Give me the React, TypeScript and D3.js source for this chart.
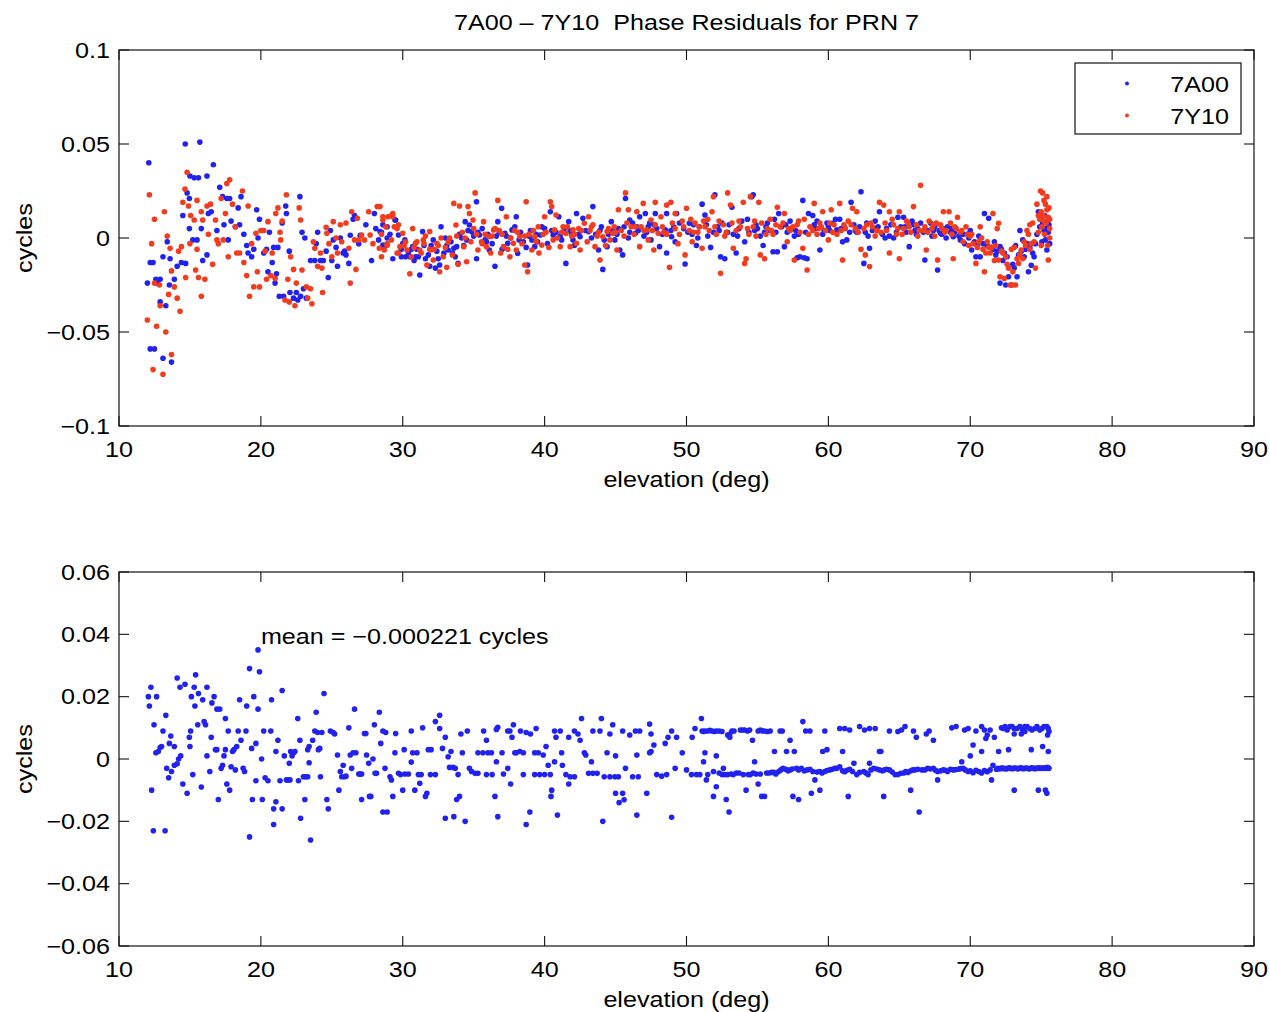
import React from "react";
import * as d3 from "d3";

// ---------- data ----------
const xTicks = [10, 20, 30, 40, 50, 60, 70, 80, 90];
const yTicksTop = [-0.1, -0.05, 0, 0.05, 0.1];
const yTicksBottom = [-0.06, -0.04, -0.02, 0, 0.02, 0.04, 0.06];
const seriesNames = ["7A00", "7Y10"];
const titleText = "7A00 \u2013 7Y10  Phase Residuals for PRN 7";
const meanText = "mean = \u22120.000221 cycles";

// 7A00 residuals [elevation deg, cycles]
const blueTop: [number, number][] = [
[12.1,.040],[12.0,-.024],[12.2,-.013],[12.4,-.013],[12.2,-.059],[12.5,-.059],[12.6,-.022],[12.9,-.022],[12.7,-.024],[12.9,-.034],[13.1,-.064],[13.3,-.036],[13.1,-.010],[13.4,-.002],[13.55,-.025],[13.7,-.066],[13.9,-.022],[13.6,-.011],[14.1,-.015],[14.4,-.013],[14.7,-.0135],[14.5,.012],[14.67,.050],[14.8,.024],[14.96,.021],[15.0,.033],[15.3,.032],[15.6,.032],[15.7,.051],[15.2,-.001],[15.5,-.001],[14.96,.005],[15.8,.005],[15.9,-.012],[16.2,.033],[16.3,.013],[16.5,.014],[16.65,.039],[16.2,-.009],[16.9,.004],[17.1,.027],[17.3,.022],[17.4,.007],[17.6,.021],[17.8,.021],[17.7,-.001],[17.9,.009],[18.2,.006],[18.4,.016],[18.6,.022],[18.5,.007],[18.8,.002],[19.0,-.004],[19.1,-.008],[19.35,-.010],[19.5,-.006],[19.7,.015],[19.8,0],[19.9,.010],[20.2,-.008],[20.4,-.006],[20.5,-.018],[20.6,.003],[20.8,-.013],[20.9,-.005],[21.0,-.024],[21.1,-.019],[21.2,-.005],[21.3,-.031],[21.6,-.031],[21.5,.008],[21.8,.013],[21.75,.017],[22.0,-.007],[22.05,-.029],[22.3,-.032],[22.5,-.029],[22.6,-.033],[22.75,.022],[22.8,-.031],[22.9,.003],[23.0,-.027],[23.1,0],[23.2,-.032],[23.5,-.012],[23.8,-.012],[23.9,-.003],[24.0,.003],[24.2,-.012],[24.4,-.012],[24.6,-.007],[24.75,-.021],[24.9,.004],[25.0,-.012],[25.1,-.001],[25.3,-.005],[25.4,-.015],[25.6,0],[25.8,-.008],[25.9,-.007],[26.0,-.009],[26.2,-.0135],[26.3,.0015],[26.5,.010],[26.6,.012],[26.9,-.003],[27.0,.0015],[27.4,.007],[27.8,-.012],[28.0,.013],[28.1,.005],[28.3,-.001],[28.5,.003],[28.6,.007],[28.9,0],[29.3,-.011],[29.5,.0096],
[28.4,.0034],[28.6,-.0037],[28.9,.006],[29.45,.0096],[29.7,.0016],[29.9,-.010],[30.2,-.010],[30.5,-.010],[30.9,-.010],[31.1,-.010],[30.15,-.001],[30.7,-.0046],[31.2,-.0197],[31.4,.0034],[31.6,-.011],[31.9,-.015],[32.15,-.001],[32.3,-.016],[32.6,-.0144],[32.7,.006],[33.0,0],[33.2,-.0064],[33.6,-.0055],[33.8,-.0046],[33.9,-.0135],[34.15,0],[34.4,.0087],[34.7,.0069],[34.85,.0034],[35.2,.0193],[35.2,-.011],[35.4,.0016],[35.8,-.001],[36.1,-.0064],[36.5,-.015],[36.7,.0087],[36.97,.0158],[37.2,.0025],[37.4,-.0028],[37.7,.0043],[38.0,.0113],[38.1,-.0082],[38.5,-.002],[38.8,-.0144],[39.1,-.001],[39.3,-.0046],[39.7,.0016],[40.0,.005],[40.4,.014],[40.6,.0016],[41.0,.0113],[41.2,-.001],[41.5,-.0135],[41.7,.0087],[42.0,-.001],[42.25,.013],[42.5,.0007],[42.7,.0105],[43.1,.0034],[43.4,.0167],[43.8,-.0064],[44.1,-.0167],[44.4,-.0046],[44.7,.0087],[44.95,-.001],[45.3,-.0064],[45.5,-.009],[45.7,.021],[46.0,.0096],[46.4,.0025],[46.7,.0113],[47.1,.013],[47.3,.006],[47.5,-.001],[47.8,.013],[48.1,-.0046],[48.5,.0043],[48.6,-.008],[48.95,.0007],[49.3,.013],
[28.8,-.004],[29.1,.002],[29.9,-.006],[30.4,-.008],[30.8,-.012],[31.0,-.006],[31.8,-.009],[32.0,-.004],[32.5,-.011],[32.9,-.008],[33.4,-.002],[33.7,-.010],[34.0,.002],[34.3,-.004],[34.6,.004],[35.0,.001],[35.6,.005],[36.0,.002],[36.3,-.003],[36.8,.003],[37.0,-.006],[37.6,0],[37.9,.006],[38.3,.003],[38.7,-.005],[39.0,.004],[39.5,-.002],[39.8,.006],[40.2,-.003],[40.8,.003],[41.4,.005],[41.9,.002],[42.1,-.004],[42.9,.004],[43.6,.002],[44.0,.006],[44.2,-.001],[44.8,.004],[45.1,.002],[45.6,.006],[45.9,0],[46.2,.008],[46.6,.004],[47.0,.001],[47.4,.008],[47.9,.005],
[48.6,.013],[48.9,.004],[49.2,-.002],[49.5,.008],[49.9,-.0138],[50.2,.0078],[50.4,.002],[50.7,-.004],[50.9,.006],[51.1,.018],[51.3,.0122],[51.5,.001],[51.7,-.005],[52.0,.023],[52.2,.006],[52.4,-.01],[52.7,-.011],[52.9,.003],[53.2,.0163],[53.5,-.008],[53.7,.005],[53.9,.009],[54.1,-.002],[54.4,.003],[54.6,.022],[54.7,.023],[54.9,.007],[55.2,.001],[55.4,-.004],[55.7,.008],[55.9,.004],[56.1,-.0073],[56.4,-.0073],[56.5,.013],[56.7,.006],[56.9,-.0046],[57.1,.003],[57.3,.009],[57.6,.001],[57.8,-.0105],[58.0,-.01],[58.2,.020],[58.3,-.0105],[58.5,-.011],[58.6,.013],[58.9,.012],[59.1,.005],[59.4,-.0064],[59.6,.002],[59.9,.008],[60.1,.004],[60.3,.0078],[60.6,.0043],[60.8,.010],[61.0,-.002],[61.3,-.001],[61.6,.019],[61.8,.007],[62.0,.003],[62.3,.0246],[62.5,-.0135],[62.7,.008],[62.9,-.0055],[63.1,.004],[63.3,.009],[63.6,.014],[63.8,.002],[64.0,0],[64.3,.001],[64.6,0],[64.9,.011],[65.1,.006],[65.3,.011],[65.5,.003],[65.7,-.0046],[66.0,.007],[66.2,.002],[66.5,.008],[66.8,-.0117],[67.0,.004],[67.3,.001],[67.5,.006],[67.7,-.017],[67.9,.0025],[68.1,.005],[68.3,0],[68.6,.003],[68.8,.0007],[69.0,.005],[69.3,-.001],[69.6,-.003],[69.9,0],[70.1,-.0064],[70.4,-.01],[70.7,-.01],[70.9,-.003],[71.0,.013],[71.3,.0105],[71.5,-.005],[71.7,-.002],[71.9,-.007],[72.1,-.0046],[72.1,-.024],[72.3,-.012],[72.5,-.025],[72.7,-.0206],[72.9,-.025],[73.0,-.014],[73.1,-.016],[73.3,-.0206],[73.4,-.009],[73.5,.004],[73.7,-.001],[73.9,-.006],[74.1,-.018],[74.3,-.0145],[74.4,-.008],[74.6,-.003],[74.7,.002],[74.8,.014],[74.9,.006],[75.0,.01],[75.05,-.002],[75.1,.008],[75.2,.004],[75.25,.012],[75.3,-.001],[75.35,.005],[75.4,-.0064],[75.45,.009],[75.5,.003],[75.55,.007],[75.6,-.003],
[49.8,.005],[50.5,.007],[51.9,.003],[52.5,.008],[53.3,.002],[54.3,.010],[55.0,.005],[55.5,.003],[56.2,.010],[57.4,.005],[57.9,.002],[59.2,.009],[59.7,.004],[60.5,.010],[61.1,.006],[61.5,.003],[62.2,.006],[62.8,.001],[63.5,.006],[64.1,.005],[64.8,.003],[65.9,.009],[66.3,.005],[67.2,.008],[67.8,.004],[68.4,.006],[68.9,.003],[69.5,.002],[70.0,.004],[70.3,-.002],[70.6,.001],[71.2,-.004],[71.8,-.009],[72.2,-.006],[72.6,-.010],[73.2,-.004],[73.8,-.010],[74.2,-.005],[74.5,-.010],
[30.0,-.003],[30.6,-.006],[31.5,-.004],[32.4,-.007],[33.1,-.004],[33.5,-.008],[34.5,-.001],[35.3,.003],[35.9,-.002],[36.6,.001],[37.3,.001],[38.2,-.001],[38.9,.001],[39.4,.002],[40.5,.004],[41.1,.001],[41.8,.004],[42.4,.002],[43.3,0],[43.9,.004],[44.5,.002],[45.2,.005],[46.0,.003],[46.5,.006],[47.2,.003],[47.7,.007],[48.3,.002],[49.1,.006],[50.1,.003],[50.8,0],[51.4,.007],[52.3,.004],[53.0,.007],[53.6,.001],[54.8,.004],[55.6,.006],[56.3,.003],[57.0,.007],[57.7,.004],[58.4,.003],[59.0,.007],[60.0,.006],[60.9,.005],[61.9,.004],[62.6,.003],[63.4,.005],[64.4,.007],[65.4,.006],[66.1,.004],[66.7,.003],[67.4,.004],[68.0,.002],[68.7,.005],[69.2,.001],[69.8,.002],[70.5,-.004],[71.1,-.003],[71.6,-.006],[72.4,-.008],[73.6,-.007],[74.0,-.003]
];

// 7Y10 residuals [elevation deg, cycles]
const redTop: [number, number][] = [
[12.14,.023],[12.0,-.0436],[12.3,-.003],[12.5,.010],[12.4,-.070],[12.65,-.047],[12.5,-.024],[12.85,-.025],[12.9,-.036],[13.1,-.0725],[13.2,.014],[13.3,-.050],[13.4,.001],[13.5,-.030],[13.6,-.0055],[13.7,-.0175],[13.7,-.062],[13.9,-.026],[14.1,-.032],[14.3,-.039],[14.2,-.007],[14.4,-.0046],[14.5,.019],[14.65,.026],[14.8,.035],[14.7,-.021],[14.9,.017],[15.05,.012],[15.0,-.003],[15.3,.0096],[15.4,-.017],[15.5,.020],[15.5,-.006],[15.6,-.021],[15.8,.014],[15.8,-.031],[15.9,.0096],[16.05,-.022],[16.2,.017],[16.3,.002],[16.45,.018],[16.6,-.014],[16.8,.0096],[16.9,-.001],[17.0,-.003],[17.2,.021],[17.35,-.001],[17.5,.013],[17.6,.029],[17.8,.031],[17.7,-.010],[18.0,.018],[18.2,.006],[18.3,-.008],[18.5,-.008],[18.7,.025],[18.8,-.013],[19.0,-.020],[19.1,.017],[19.2,-.031],[19.35,-.003],[19.5,-.026],[19.65,.0025],[19.75,-.018],[19.9,-.026],[20.0,.004],[20.2,.004],[20.3,-.007],[20.4,-.022],[20.5,.0087],[20.7,-.020],[20.8,-.008],[21.0,-.0215],[21.05,.013],[21.2,.016],[21.35,.003],[21.4,-.001],[21.5,.009],[21.7,-.033],[22.0,-.034],[22.4,-.036],[21.8,.023],[21.9,-.022],[22.1,-.010],[22.3,-.0167],[22.5,-.024],[22.7,.016],[22.8,.0096],[22.9,-.017],[23.2,-.026],[23.3,-.032],[23.5,-.027],[23.6,-.035],[23.7,-.002],[23.8,-.0055],[24.0,-.015],[24.2,-.008],[24.3,-.016],[24.35,-.029],[24.6,.0057],[24.65,.0025],[24.8,-.003],[25.0,-.010],[25.1,.0087],[25.3,0],[25.4,-.008],[25.6,.007],[25.7,-.002],[26.0,.008],[26.2,-.0055],[26.3,-.024],[26.4,.014],[26.6,-.001],[26.7,-.0167],[26.8,.0105],[26.9,-.001],[27.1,.0016],[27.3,-.001],[27.6,.014],[27.7,.0016],[27.9,-.003],[28.2,.0167],[28.35,-.0055],[28.5,-.010],[28.6,.0113],[28.8,.006],[28.9,-.004],[29.2,.012],[29.3,.0113],[29.6,-.008],[29.7,.007],
[28.4,.0167],[28.6,.0096],[28.7,-.0064],[28.95,.0113],[29.3,.013],[29.2,-.001],[29.6,.005],[29.8,-.0046],[30.0,.0025],[30.3,-.0064],[30.5,-.019],[30.7,.005],[30.9,-.0028],[31.2,-.0064],[31.45,-.001],[31.7,-.0144],[31.9,.0034],[32.0,-.0064],[32.15,-.0117],[32.4,-.0028],[32.6,-.018],[32.85,-.01],[33.1,-.0156],[33.3,0],[33.6,.0184],[33.75,.0069],[33.9,-.014],[34.0,.017],[34.3,-.0046],[34.5,-.0126],[34.6,.0167],[34.7,.013],[34.95,.0096],[35.1,.024],[35.3,-.0064],[35.55,-.002],[35.7,.0087],[35.9,-.0046],[36.1,.0007],[36.4,.0043],[36.7,.020],[36.9,-.008],[37.1,-.0046],[37.3,.0113],[37.55,-.01],[37.8,-.0028],[38.0,-.0064],[38.25,.0007],[38.6,-.0144],[38.7,.0193],[38.8,-.018],[39.1,-.0064],[39.3,.0007],[39.55,.006],[39.8,-.0037],[40.0,.0113],[40.4,.0193],[40.5,.0167],[40.7,.0043],[40.8,.0122],[41.1,-.0046],[41.3,.006],[41.5,.0025],[41.8,-.0046],[42.0,.0043],[42.25,-.0028],[42.5,-.0064],[42.8,.0078],[43.1,.0113],[43.3,.006],[43.55,-.0046],[43.9,-.0117],[44.1,.0007],[44.4,.0034],[44.6,-.001],[44.8,.0025],[45.1,-.0064],[45.2,.015],[45.7,.024],[45.9,.015],[46.1,.006],[46.5,.014],[46.7,-.0046],[46.95,.0184],[47.2,.0043],[47.5,.0096],[47.7,-.0064],[47.8,.019],[48.0,.0025],[48.2,.0113],[48.6,.0175],[48.8,-.0156],[48.9,.019],[49.2,.013],
[28.5,.002],[28.9,-.003],[29.4,.006],[29.7,-.008],[30.1,-.004],[30.6,-.010],[31.0,-.002],[31.3,-.008],[31.6,.001],[32.2,-.006],[32.7,0],[33.0,-.005],[33.5,-.009],[34.2,.003],[34.8,-.002],[35.0,.005],[35.8,.002],[36.2,-.008],[36.5,.005],[37.0,.002],[37.4,-.006],[37.9,.004],[38.4,-.003],[38.9,.002],[39.2,.004],[39.6,-.008],[40.1,.003],[40.3,-.005],[40.9,0],[41.6,.006],[42.1,.002],[42.6,.004],[43.0,-.002],[43.4,.007],[43.8,.003],[44.3,-.004],[44.9,.006],[45.4,.004],[45.8,.008],[46.3,.002],[46.8,.006],[47.3,-.001],[47.6,.004],[48.3,.006],
[49.5,.002],[49.7,.009],[49.9,-.009],[50.0,.0158],[50.2,.004],[50.4,-.002],[50.6,.008],[50.8,.003],[51.1,-.0055],[51.3,.006],[51.5,.010],[51.8,.014],[51.9,.022],[52.1,.002],[52.4,-.0188],[52.6,.007],[52.9,.024],[53.1,.0175],[53.3,-.0055],[53.5,.004],[53.7,.009],[54.0,.019],[54.1,-.0135],[54.2,-.011],[54.5,.022],[54.7,.006],[54.9,.001],[55.1,.019],[55.2,-.009],[55.5,-.011],[55.7,.005],[55.9,.010],[56.1,.002],[56.4,.0163],[56.6,.006],[56.9,.013],[57.1,-.002],[57.3,.004],[57.6,-.0117],[57.8,.007],[58.0,.003],[58.2,-.0055],[58.5,-.017],[58.7,.006],[59.0,.0184],[59.2,.002],[59.4,.008],[59.6,.014],[59.8,.004],[60.0,-.001],[60.2,.015],[60.4,.007],[60.6,.002],[60.8,.0184],[61.0,-.0117],[61.2,.005],[61.4,.009],[61.7,.0158],[62.0,.014],[62.1,.003],[62.3,-.006],[62.6,-.009],[62.9,-.0152],[63.1,.006],[63.3,.001],[63.6,.019],[63.9,.0175],[64.1,.004],[64.3,.014],[64.3,-.008],[64.6,.007],[64.8,.002],[65.0,-.011],[65.0,.014],[65.3,.005],[65.5,.009],[65.8,.003],[66.0,.0167],[66.2,.007],[66.5,.028],[66.7,.004],[66.9,-.0064],[67.1,.009],[67.3,.005],[67.5,.001],[67.7,-.0117],[67.9,.007],[68.1,.014],[68.3,.004],[68.5,.014],[68.7,.002],[68.8,-.011],[69.1,.011],[69.3,.003],[69.5,-.002],[69.7,.006],[69.9,-.004],[70.1,.002],[70.4,-.0135],[70.5,-.005],[70.7,.006],[70.9,-.006],[71.0,-.018],[71.2,-.002],[71.4,-.008],[71.6,.013],[71.8,-.004],[71.9,.005],[72.0,.0078],[72.0,-.0117],[72.1,-.0206],[72.3,-.008],[72.4,-.0215],[72.6,-.014],[72.7,-.016],[72.8,-.025],[73.0,-.018],[73.0,-.025],[73.2,-.025],[73.3,-.011],[73.4,-.0135],[73.6,-.0064],[73.8,-.002],[74.0,.004],[74.2,.007],[74.3,-.003],[74.4,.008],[74.6,-.016],[74.7,.018],[74.8,.003],[74.9,.010],[74.95,.025],[75.0,.014],[75.05,.006],[75.1,.024],[75.15,.012],[75.2,.020],[75.25,.002],[75.3,.018],[75.35,.008],[75.4,.015],[75.45,-.004],[75.5,.011],[75.5,-.0117],[75.55,.016],[75.6,.005],[75.6,.010],
[48.6,.002],[49.0,.008],[49.4,-.003],[50.3,.010],[50.9,.006],[51.6,.004],[52.3,.009],[52.8,.003],[53.8,.006],[54.4,.002],[55.3,.008],[56.0,.004],[56.8,.008],[57.5,.006],[58.3,.010],[58.9,.004],[59.5,.006],[60.1,.008],[60.9,.004],[61.6,.007],[62.5,.005],[63.0,.008],[63.7,.003],[64.5,.010],[65.2,.002],[65.7,.006],[66.4,.004],[67.0,.003],[67.6,.008],[68.2,.003],[68.6,.008],[69.0,.005],[69.8,.002],[70.2,-.003],[70.8,0],[71.1,-.008],[71.5,-.005],[71.7,-.012],[72.5,-.010],[72.9,-.006],[73.5,-.009],[73.9,-.004],[74.1,.002],[74.5,-.002],[74.8,.012],[75.0,-.004],[75.2,.009],[75.4,.022],[75.6,0],
[30.2,-.002],[30.8,-.005],[31.5,-.003],[31.9,-.006],[32.5,-.004],[33.2,-.002],[33.8,.001],[34.4,0],[35.2,.002],[35.6,-.003],[36.3,.001],[36.8,.004],[37.6,0],[38.1,.003],[38.6,.001],[39.4,-.002],[39.9,.002],[40.6,-.001],[41.2,.003],[41.9,.001],[42.4,.005],[43.2,.004],[43.7,.001],[44.5,.005],[45.0,.003],[45.6,.001],[46.4,.006],[47.0,.004],[47.8,.007],[48.4,.003],[49.2,.005],[49.8,.006],[50.5,.003],[51.2,.009],[52.0,.006],[52.7,.001],[53.2,.008],[54.3,.005],[54.8,.009],[55.6,.002],[56.3,.007],[57.2,.005],[57.9,.009],[58.6,.002],[59.3,.005],[60.3,.003],[61.1,.007],[61.9,.005],[62.7,.007],[63.4,.004],[64.0,.008],[64.9,.005],[65.6,.008],[66.3,.001],[66.8,.006],[67.4,.007],[68.0,.005],[68.9,.006],[69.4,.004],[70.0,.001],[70.6,-.002],[71.3,-.005],[72.2,-.007],[73.1,-.005],[73.7,-.011],[74.2,-.006]
];

// 7A00 - 7Y10 difference [elevation deg, cycles]
const diffBottom: [number, number][] = [
[12.07,.020],[12.14,.017],[12.25,.023],[12.3,-.010],[12.47,.011],[12.42,-.023],[12.65,.020],[12.6,.002],[12.77,.0024],[12.9,.0037],[13.0,.004],[13.1,.009],[13.25,-.023],[13.3,.014],[13.36,-.003],[13.55,.005],[13.65,.0074],[13.5,-.006],[13.7,-.004],[13.9,.004],[13.9,-.002],[14.1,-.0015],[14.2,0],[14.1,.026],[14.3,.023],[14.35,.001],[14.5,-.008],[14.65,.024],[14.8,-.011],[14.96,.007],[15.0,.004],[15.05,.009],[15.1,.020],[15.2,-.005],[15.3,.023],[15.4,.027],[15.35,.017],[15.55,.011],[15.6,.021],[15.8,-.009],[15.9,.019],[16.0,.012],[16.1,.011],[16.2,.023],[16.2,.001],[16.4,-.004],[16.5,.007],[16.55,.018],[16.7,.020],[16.8,.003],[16.9,.003],[16.9,.016],[17.1,.016],[17.0,-.013],[17.2,-.003],[17.3,-.002],[17.4,.001],[17.5,.013],[17.5,.003],[17.6,-.008],[17.7,.009],[17.8,-.010],[17.9,-.0025],[18.0,.0024],[18.1,.003],[18.2,-.0035],[18.3,.004],[18.4,.009],[18.5,.019],[18.6,.006],[18.75,-.003],[18.85,-.004],[18.95,.009],[19.0,.017],[19.2,-.025],[19.2,.029],[19.35,.0034],[19.4,-.013],[19.5,.020],[19.65,.005],[19.65,-.007],[19.8,.016],[19.8,.035],[19.9,.028],[20.05,0],[20.1,-.013],[20.2,.009],[20.3,-.006],[20.5,-.007],[20.7,.009],[20.75,.019],[20.9,-.021],[20.9,-.016],[21.06,-.0137],[21.06,.0024],[21.2,.006],[21.35,-.007],[21.5,.022],[21.5,-.016],[21.65,.001],[21.8,-.0067],[21.9,-.0067],[22.05,-.0067],[22.0,-.0014],[22.1,.0024],[22.2,.001],[22.3,.002],[22.4,.0024],[22.6,.013],[22.65,-.007],[22.75,.006],[22.8,-.019],[23.0,-.0057],[23.15,-.0057],[23.3,-.0057],[23.1,-.013],[23.3,.003],[23.4,.004],[23.5,-.026],[23.4,-.0012],[23.65,.006],[23.8,.009],[23.9,.015],[24.0,.0085],[24.05,.003],[24.15,.0034],[24.2,-.0057],[24.3,.0085],[24.45,.021],[24.65,-.013],[24.75,-.016],[24.9,.009],[25.1,.0085],[25.2,.008],[25.4,.0013],[25.5,-.010],[25.6,-.004],[25.7,-.0057],[25.8,-.002],[25.9,-.0057],[26.0,-.0055],[26.2,.010],[26.3,.0013],[26.4,-.003],[26.5,.002],[26.6,.016],[26.7,.002],[26.9,-.0048],[27.0,-.0048],[27.1,-.0048],[27.1,-.013],[27.3,.0082],[27.4,.0082],[27.45,.0013],[27.6,-.0014],[27.65,-.012],[27.75,-.012],[27.9,0],[28.0,.011],[28.05,-.0046],[28.15,-.0046],[28.35,.015],[28.45,.005],[28.6,.009],[28.6,-.017],[28.75,-.003],[28.8,.0085],[28.9,-.017],[29.1,-.0057],[29.2,-.0067],[29.3,-.012],[29.45,.002],[29.5,.0082],[29.7,-.0046],
[29.85,-.005],[30.0,-.010],[30.1,.003],[30.15,-.0048],[30.4,-.0048],[30.6,.009],[30.6,-.001],[30.7,.002],[31.0,.002],[30.85,-.010],[31.1,-.005],[31.3,-.005],[31.2,-.0078],[31.4,.010],[31.6,-.012],[31.7,-.011],[31.8,.003],[32.0,.003],[31.95,-.005],[32.3,-.005],[32.3,.012],[32.6,.014],[32.6,.0098],[32.8,.0034],[33.0,.007],[33.0,-.019],[33.2,.0007],[33.3,-.0027],[33.55,-.0027],[33.7,-.003],[33.4,.0024],[33.6,-.0185],[33.8,-.013],[34.0,-.012],[33.9,-.005],[34.1,.008],[34.2,.002],[34.4,-.020],[34.55,.009],[34.7,-.003],[34.85,-.004],[35.1,-.0046],[35.3,-.0046],[35.3,.002],[35.65,.002],[36.0,.002],[36.25,.002],[35.7,.009],[35.9,.006],[35.9,-.005],[36.3,-.005],[36.5,-.012],[36.6,-.0009],[36.6,.0095],[36.7,.0102],[36.7,-.0185],[37.0,.002],[37.1,-.0048],[37.4,.009],[37.55,.009],[37.4,-.003],[37.6,-.008],[37.7,.007],[37.9,.002],[37.8,.011],[38.0,.002],[38.25,.0024],[38.5,.002],[38.3,.009],[38.5,-.005],[38.7,.0085],[39.0,.008],[38.7,-.021],[38.96,-.017],[39.3,.002],[39.55,.002],[39.9,.0013],[39.3,-.005],[39.65,-.005],[40.0,-.005],[40.4,-.005],[39.4,.0098],[40.1,.004],[40.25,-.002],[40.5,-.010],[40.45,-.012],[40.7,.009],[41.1,.009],[40.8,.007],[40.7,-.0009],[40.9,-.018],[41.2,.002],[41.25,-.002],[41.5,-.005],[41.8,-.0057],[42.1,-.0057],[41.7,-.008],[41.7,.007],[42.1,.009],[42.35,.008],[42.5,.006],[42.6,.013],[42.8,.002],[42.9,.0013],[43.1,-.0046],[43.4,-.0046],[43.7,-.0046],[43.3,-.0009],[43.4,.009],[43.9,.009],[44.0,.013],[44.1,-.020],[44.4,.002],[45.0,.001],[44.6,.008],[44.2,-.0057],[44.6,-.0057],[44.95,-.0057],[45.2,-.0057],[44.8,.011],[45.0,-.011],[45.25,-.014],[45.6,-.0131],[45.5,-.011],[45.5,.009],[45.7,-.003],[46.0,.0077],[46.2,-.0057],[46.6,-.0057],[46.4,.009],[46.5,-.018],[46.7,.009],[46.5,.0013],[47.2,-.011],[47.4,.002],[47.5,.0024],[47.4,.0112],[47.5,.008],[47.7,.0045],[47.9,-.005],[48.25,-.0055],[48.6,-.005],[48.5,.005],[48.7,.007],[48.95,.009],[48.95,-.0187],[49.2,-.003],[49.3,.007],[49.7,.002],[50.0,-.0035],[50.35,-.005],[50.7,-.005],[50.4,.007],[50.6,.0098],
[51.05,.013],[51.1,.009],[51.3,.009],[51.5,.009],[51.8,.009],[52.1,.009],[52.5,.0088],[53.05,.008],[53.05,.007],[53.2,.009],[53.8,.0093],[54.1,.0093],[54.45,.0093],[55.05,.009],[55.5,.009],[55.9,.009],[56.6,.009],[54.65,.006],[51.3,.002],[52.1,.001],[51.2,-.0009],[50.94,-.005],[51.5,-.005],[51.9,-.004],[51.4,-.0067],[52.1,-.0089],[51.9,-.012],[52.6,-.003],[52.7,-.005],[52.5,-.005],[52.8,-.013],[53.0,-.017],[53.3,-.005],[53.5,-.0045],[54.0,-.005],[54.2,-.010],[54.8,-.0009],[54.35,-.005],[54.7,-.0045],[55.05,-.008],[55.3,-.012],[55.5,-.012],[55.2,-.0048],[55.65,-.0045],[56.0,-.0043],[56.3,-.0048],[56.2,.0024],[57.05,.0024],[57.6,.0024],[57.3,.006],[56.8,-.003],[57.3,-.0035],[57.75,-.003],[58.1,-.003],[58.5,-.0035],[58.9,-.004],[57.5,-.012],[57.9,-.013],[58.2,.012],[58.4,.009],[58.7,.009],[58.8,-.011],[59.05,-.0067],[59.4,-.010],[59.6,.0024],[59.9,.003],[59.75,.009],[59.4,-.004],[59.75,-.004],[60.1,-.0035],[60.45,-.003],[60.8,-.0025],[61.15,-.0041],[61.5,-.0033],[61.0,.0024],[60.8,.0098],[61.15,.0098],[61.5,.0093],[61.4,-.012],[61.8,-.0014],[62.0,-.005],[62.2,.0104],[62.55,.0093],[62.9,.0098],[63.3,.0098],[62.5,-.004],[62.8,-.005],[62.9,-.0014],[63.2,-.003],[63.6,-.0035],[63.95,-.0035],[64.3,-.0035],[63.6,.0024],[63.7,.0024],[63.9,-.012],[64.3,.009],[64.9,.0088],[65.15,.0093],[65.4,.0104],[64.9,-.005],[65.3,-.0045],[65.6,-.0043],[66.1,-.0035],[66.6,-.0035],[67.0,-.003],[67.4,-.003],[67.7,-.004],[65.8,-.010],[66.0,.009],[66.2,.007],[66.4,-.017],[66.9,.008],[67.1,.009],[67.4,.006],[67.7,-.0067],[68.1,-.0035],[68.4,-.004],[68.8,-.0035],[69.15,-.0033],[69.5,-.003],[69.85,-.004],[68.7,.010],[69.0,.0104],[69.6,.0093],[69.85,.0098],[69.4,-.0009],[70.0,.001],[70.2,.0045],[70.4,.009],[70.8,.0104],[71.0,.0093],[71.2,.0077],[70.8,.0024],[71.1,.0066],[71.4,.0093],[71.6,-.002],[71.7,.007],[71.5,-.0067],[72.0,.0024],[72.2,.010],[72.45,.0104],[72.8,.0104],[73.1,.0098],[73.5,.0104],[73.85,.0104],[74.2,.0098],[74.55,.0098],[74.9,.0093],[75.4,.0104],[73.1,.008],[73.6,.008],[73.85,.0088],[72.7,.003],[73.1,-.010],[74.3,.003],[75.1,.004],[75.5,.0024],[74.8,-.010],[75.3,-.010],[75.4,-.011],
[56.5,-.004],[56.65,-.0035],[57.0,-.0033],[57.15,-.0038],[57.45,-.0032],[57.9,-.0035],[58.3,-.0038],[58.7,-.0033],[59.2,-.0042],[59.55,-.0045],[59.9,-.0037],[60.25,-.0033],[60.6,-.003],[61.0,-.0038],[61.3,-.0036],[61.7,-.004],[62.2,-.0043],[62.65,-.0045],[63.0,-.0035],[63.4,-.0032],[63.8,-.0038],[64.1,-.0033],[64.5,-.0042],[64.7,-.005],[65.1,-.0046],[65.45,-.004],[65.8,-.0038],[65.95,-.0035],[66.3,-.0033],[66.8,-.0035],[67.2,-.0032],[67.55,-.0036],[67.9,-.0038],[68.25,-.0036],[68.6,-.0033],[68.95,-.0034],[69.3,-.0031],[69.65,-.0035],[70.0,-.0038],[70.2,-.0044],[70.4,-.0036],[70.6,-.004],[70.8,-.0045],[71.0,-.0037],[71.2,-.0041],[71.4,-.0035],
[71.85,-.0033],[71.95,-.003],[72.05,-.0032],[72.15,-.003],[72.25,-.0029],[72.35,-.0031],[72.45,-.003],[72.55,-.0032],[72.65,-.003],[72.75,-.0028],[72.85,-.003],[72.95,-.0031],[73.05,-.003],[73.15,-.0029],[73.25,-.003],[73.35,-.0032],[73.45,-.003],[73.55,-.0028],[73.65,-.003],[73.75,-.0031],[73.85,-.003],[73.95,-.0029],[74.05,-.003],[74.15,-.0032],[74.25,-.003],[74.35,-.0028],[74.45,-.003],[74.55,-.0031],[74.65,-.0029],[74.75,-.003],[74.85,-.0028],[74.95,-.003],[75.05,-.0029],[75.15,-.003],[75.25,-.0028],[75.35,-.003],[75.45,-.0027],[75.55,-.003],
[51.2,.0088],[51.65,.0092],[51.95,.0088],[52.3,.009],[53.35,.009],[53.95,.0093],[54.3,.009],[55.2,.0093],[55.35,.009],[55.7,.0088],[56.75,.009],[52.9,.0077],
[72.35,.0098],[72.6,.0093],[72.95,.0104],[73.3,.0098],[73.7,.0093],[74.0,.0104],[74.35,.0093],[74.7,.0104],[75.05,.0098],[75.2,.0104],[75.5,.0098],[75.55,.0088],[75.45,.0077],
[52.3,-.0045],[52.9,-.005],[53.15,-.0048],[53.7,-.0045],[54.5,-.005],[54.9,-.0048],[55.8,-.0045],[56.15,-.0043]
];

// ---------- styling ----------
const BLUE = "#2222f0";
const RED = "#f23c1e";
const FONT = "'Liberation Sans', Arial, Helvetica, sans-serif";
const FS = 21.5;
const SX = 1.17;

const X0 = 119, X1 = 1254;
const TOP = { y0: 50, y1: 426 };
const BOT = { y0: 572, y1: 946 };

const fmt = d3.format("~g");

function T(props: { x: number; y: number; anchor?: string; rotate?: boolean; size?: number; children: React.ReactNode }) {
  const { x, y, anchor = "start", rotate = false, size = FS, children } = props;
  const tr = `translate(${x},${y})${rotate ? " rotate(-90)" : ""} scale(${SX},1)`;
  return (
    <text transform={tr} textAnchor={anchor as any} fontFamily={FONT} fontSize={size} fill="#000" style={{ whiteSpace: "pre" }}>
      {children}
    </text>
  );
}

function Panel(props: {
  yDomain: [number, number];
  yTicks: number[];
  box: { y0: number; y1: number };
  series: { data: [number, number][]; color: string }[];
}) {
  const { yDomain, yTicks, box, series } = props;
  const x = d3.scaleLinear().domain([10, 90]).range([X0, X1]);
  const y = d3.scaleLinear().domain(yDomain).range([box.y1, box.y0]);
  const tl = 10;
  return (
    <g>
      {series.map((s, si) => (
        <g key={si} fill={s.color}>
          {s.data.map((d, i) => (
            <circle key={i} cx={x(d[0])} cy={y(d[1])} r={2.8} />
          ))}
        </g>
      ))}
      <rect x={X0} y={box.y0} width={X1 - X0} height={box.y1 - box.y0} fill="none" stroke="#111" strokeWidth={1.2} />
      {xTicks.map((t) => (
        <g key={"x" + t}>
          <line x1={x(t)} x2={x(t)} y1={box.y1} y2={box.y1 - tl} stroke="#111" strokeWidth={1.1} />
          <line x1={x(t)} x2={x(t)} y1={box.y0} y2={box.y0 + tl} stroke="#111" strokeWidth={1.1} />
          <T x={x(t)} y={box.y1 + 31} anchor="middle">{fmt(t)}</T>
        </g>
      ))}
      {yTicks.map((t) => (
        <g key={"y" + t}>
          <line x1={X0} x2={X0 + tl} y1={y(t)} y2={y(t)} stroke="#111" strokeWidth={1.1} />
          <line x1={X1} x2={X1 - tl} y1={y(t)} y2={y(t)} stroke="#111" strokeWidth={1.1} />
          <T x={110} y={y(t) + 7.5} anchor="end">{fmt(t)}</T>
        </g>
      ))}
      <T x={(X0 + X1) / 2} y={box.y1 + 61} anchor="middle">elevation (deg)</T>
      <T x={32} y={(box.y0 + box.y1) / 2} anchor="middle" rotate>cycles</T>
    </g>
  );
}

export default function App() {
  const xb = d3.scaleLinear().domain([10, 90]).range([X0, X1]);
  const yb = d3.scaleLinear().domain([-0.06, 0.06]).range([BOT.y1, BOT.y0]);
  return (
    <svg width={1270} height={1012} style={{ position: "absolute", left: 0, top: 0, background: "#fff" }}>
      <rect x={0} y={0} width={1270} height={1012} fill="#fff" />
      <T x={(X0 + X1) / 2} y={30} anchor="middle">{titleText}</T>
      <Panel
        yDomain={[-0.1, 0.1]}
        yTicks={yTicksTop}
        box={TOP}
        series={[
          { data: blueTop, color: BLUE },
          { data: redTop, color: RED },
        ]}
      />
      {/* legend */}
      <g>
        <rect x={1075} y={63} width={166} height={71} fill="#fff" stroke="#111" strokeWidth={1.2} />
        <circle cx={1127} cy={83.5} r={2} fill={BLUE} />
        <circle cx={1127} cy={115.5} r={2} fill={RED} />
        <T x={1229} y={91.5} anchor="end">{seriesNames[0]}</T>
        <T x={1229} y={123.5} anchor="end">{seriesNames[1]}</T>
      </g>
      <Panel
        yDomain={[-0.06, 0.06]}
        yTicks={yTicksBottom}
        box={BOT}
        series={[{ data: diffBottom, color: BLUE }]}
      />
      <T x={xb(20)} y={yb(0.04) + 10} anchor="start">{meanText}</T>
    </svg>
  );
}
